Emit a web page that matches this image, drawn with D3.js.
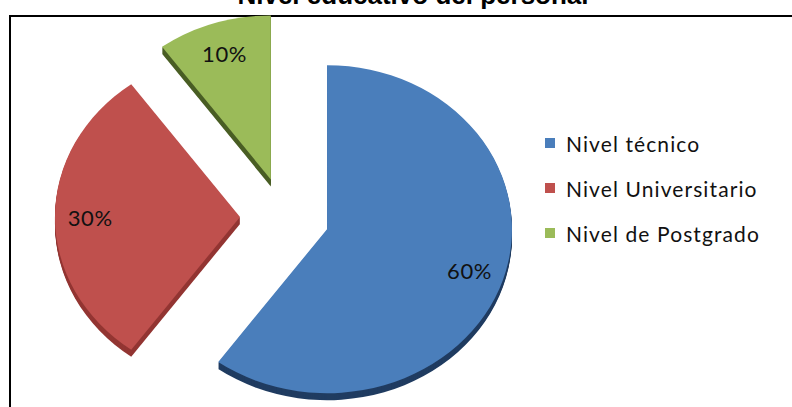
<!DOCTYPE html>
<html>
<head>
<meta charset="utf-8">
<script src="https://cdn.jsdelivr.net/npm/d3@7"></script>
<style>
  html, body { margin: 0; padding: 0; background: #fff; }
  svg { display: block; }
</style>
</head>
<body>
<svg id="chart" width="792" height="407"></svg>
<script>
// Education level of the staff
const categories = ["Nivel técnico", "Nivel Universitario", "Nivel de Postgrado"];
const values = [60, 30, 10];
const labels = ["60%", "30%", "10%"];
const topColors = ["#4a7ebb", "#bf504d", "#9bbb59"];
const sideColors = ["#203c61", "#933633", "#4a5e25"];
const title = "Nivel educativo del personal";

const W = 792, H = 407;
const svg = d3.select("#chart");

// chart frame (runs past the right and bottom edges)
svg.append("rect")
  .attr("x", 10).attr("y", 16)
  .attr("width", 800).attr("height", 420)
  .attr("fill", "#fff").attr("stroke", "#000").attr("stroke-width", 2);

// title, partly above the top of the page
svg.append("text")
  .attr("x", 413).attr("y", 4)
  .attr("text-anchor", "middle")
  .attr("font-family", "Liberation Sans, Arial, sans-serif")
  .attr("font-weight", "bold")
  .attr("font-size", 26)
  .text(title);

// pie geometry: tilted ellipse, every slice pulled out along its mid angle
const cx = 284.6, cy = 217;
const rx = 185, ry = 164;
const k = ry / rx;
const explode = 44.6;
const depth = 7;

const pie = d3.pie().sort(null).value(d => d).startAngle(0).endAngle(2 * Math.PI);
const arcs = pie(values);
const unitArc = d3.arc().innerRadius(0).outerRadius(1);

function centerOf(a) {
  const mid = (a.startAngle + a.endAngle) / 2;
  return [cx + explode * Math.sin(mid), cy - explode * Math.cos(mid) * k];
}

const pieG = svg.append("g");

// extruded side walls
arcs.forEach((a, i) => {
  const [x, y] = centerOf(a);
  for (let s = depth; s >= 1; s--) {
    pieG.append("path")
      .attr("d", unitArc(a))
      .attr("transform", `translate(${x},${y + s}) scale(${rx},${ry})`)
      .attr("fill", sideColors[i]);
  }
});

// top faces
arcs.forEach((a, i) => {
  const [x, y] = centerOf(a);
  pieG.append("path")
    .attr("d", unitArc(a))
    .attr("transform", `translate(${x},${y}) scale(${rx},${ry})`)
    .attr("fill", topColors[i]);
});

// percentage labels
arcs.forEach((a, i) => {
  const [x, y] = centerOf(a);
  const mid = (a.startAngle + a.endAngle) / 2;
  const f = 0.81;
  pieG.append("text")
    .attr("x", x + f * rx * Math.sin(mid))
    .attr("y", y - f * ry * Math.cos(mid))
    .attr("text-anchor", "middle")
    .attr("dominant-baseline", "central")
    .attr("font-family", "Lato, Carlito, Calibri, sans-serif")
    .attr("font-size", 22)
    .attr("letter-spacing", 0.6)
    .attr("fill", "#111")
    .text(labels[i]);
});

// legend
const legendY = d3.scalePoint().domain(categories).range([143, 233]);
const leg = svg.append("g");
categories.forEach((c, i) => {
  const y = legendY(c);
  leg.append("rect")
    .attr("x", 545).attr("y", y - 5)
    .attr("width", 10).attr("height", 10)
    .attr("fill", topColors[i]);
  leg.append("text")
    .attr("x", 566).attr("y", y)
    .attr("dominant-baseline", "central")
    .attr("font-family", "Lato, Carlito, Calibri, sans-serif")
    .attr("font-size", 21)
    .attr("letter-spacing", 1.1)
    .attr("fill", "#111")
    .text(c);
});
</script>
</body>
</html>
